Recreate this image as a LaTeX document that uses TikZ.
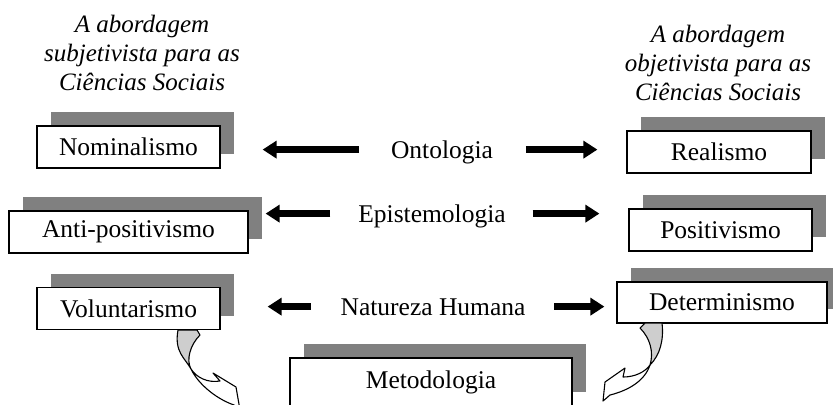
\documentclass[tikz,border=0pt]{standalone}
\usepackage{fontspec}
\setmainfont{Liberation Serif}
\usepackage{tikz}
\usetikzlibrary{arrows.meta,positioning,shadows}
\definecolor{boxshade}{RGB}{128,128,128}
\definecolor{ribbonfill}{RGB}{206,206,206}
\tikzset{
    stance/.style={rectangle, draw, line width=0.6pt, fill=white, minimum height=21pt, inner sep=0pt, font=\fontsize{12.75}{15}\selectfont,
        general shadow={fill=boxshade, shadow xshift=7pt, shadow yshift=7pt}},
    dimlabel/.style={inner sep=0pt, text height=8.4pt, text depth=0pt, font=\fontsize{12.75}{15}\selectfont},
    heading/.style={inner sep=0pt, align=center, anchor=north, font=\fontsize{12.5}{14.5}\selectfont\itshape},
    bigarrow/.style={-{Triangle[length=7pt,width=8.5pt]}, line width=3.2pt},
    ribbon/.style={line width=0.55pt, line join=round},
}
\begin{document}
\begin{tikzpicture}[x=0.5pt, y=-0.5pt]
    \useasboundingbox (0,0) rectangle (833,404);
    \node[heading] (subj) at (142,15) {A abordagem\\subjetivista para as\\Ciências Sociais};
    \node[heading] (obj) at (718,25) {A abordagem\\objetivista para as\\Ciências Sociais};

    \node[stance, minimum width=91.5pt] (nomin) at (128.5,147) {Nominalismo};
    \node[stance, minimum width=119.5pt] (antipos) at (128.5,232) {Anti-positivismo};
    \node[stance, minimum width=91.5pt] (volunt) at (128.5,308.5) {Voluntarismo};
    \node[stance, minimum width=92pt] (real) at (719,152) {Realismo};
    \node[stance, minimum width=91.5pt] (posit) at (720.5,230) {Positivismo};
    \node[stance, minimum width=105pt, minimum height=20.5pt] (determ) at (722,302.5) {Determinismo};
    \node[stance, minimum width=141pt, minimum height=24pt] (metod) at (431,382) {Metodologia};

    \node[dimlabel] (onto) at (442,149.6) {Ontologia};
    \node[dimlabel] (epist) at (432,213.6) {Epistemologia};
    \node[dimlabel] (natur) at (433,306.6) {Natureza Humana};

    \draw[bigarrow, shorten <=15.75pt, shorten >=21pt] (onto.west) -- (onto.west -| nomin.east);
    \draw[bigarrow, shorten <=16.25pt, shorten >=14.5pt] (onto.east) -- (onto.east -| real.west);
    \draw[bigarrow, shorten <=13.75pt, shorten >=8.5pt] (epist.west) -- (epist.west -| antipos.east);
    \draw[bigarrow, shorten <=13.25pt, shorten >=14.5pt] (epist.east) -- (epist.east -| posit.west);
    \draw[bigarrow, shorten <=14.75pt, shorten >=23.5pt] (natur.west) -- (natur.west -| volunt.east);
    \draw[bigarrow, shorten <=14.25pt, shorten >=6pt] (natur.east) -- (natur.east -| determ.west);

    \filldraw[ribbon, fill=ribbonfill] (178,330) .. controls (174,352) and (185,358) .. (191,369)
        .. controls (186,360) and (190,345) .. (200,335) -- (197,330) -- cycle;
    \filldraw[ribbon, fill=white] (191,369) .. controls (197,378) and (208,383) .. (220,381)
        -- (213,373) -- (236,387) -- (240,410) -- (234,405)
        .. controls (214,398) and (197,382) .. (191,369) -- cycle;

    \filldraw[ribbon, fill=ribbonfill] (640,328) -- (645,323) -- (662,323)
        .. controls (664,340) and (660,355) .. (650,365)
        .. controls (654,352) and (650,338) .. (640,328) -- cycle;
    \filldraw[ribbon, fill=white] (650,365) .. controls (645,372) and (635,377) .. (623,377)
        -- (625,368) -- (605,382) -- (603,401) -- (610,395)
        .. controls (630,390) and (645,380) .. (650,365) -- cycle;
\end{tikzpicture}
\end{document}
